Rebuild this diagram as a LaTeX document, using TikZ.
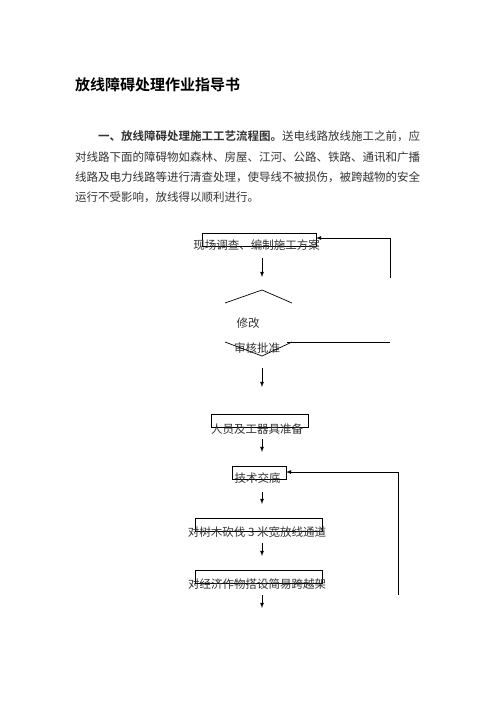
\documentclass[tikz,border=0pt]{standalone}
\usepackage{fontspec}
\newfontfamily\cjk{Noto Sans CJK SC}[BoldFont={Noto Sans CJK SC Bold}]
\usepackage{tikz}
\usetikzlibrary{arrows}
\tikzset{
  txt/.style={inner sep=0pt,font=\cjk\fontsize{11.5}{11.5}\selectfont,text=black!80},
  line/.style={anchor=west,inner sep=0pt,font=\cjk\fontsize{11.5}{11.5}\selectfont,text=black!80},
  frame/.style={draw,line width=0.7pt},
  flow/.style={-latex,line width=0.8pt}
}
\begin{document}
\begin{tikzpicture}[x=1pt,y=-1pt]
    \useasboundingbox (0,0) rectangle (496,702);
    % heading and text
    \node[anchor=west,inner sep=0pt,font=\cjk\bfseries\fontsize{15}{15}\selectfont] (title) at (75,85) {放线障碍处理作业指导书};
    \node[line] (par1) at (98,136) {\textbf{一、放线障碍处理施工工艺流程图。}送电线路放线施工之前，应};
    \node[line] (par2) at (75,157) {对线路下面的障碍物如森林、房屋、江河、公路、铁路、通讯和广播};
    \node[line] (par3) at (75,177) {线路及电力线路等进行清查处理，使导线不被损伤，被跨越物的安全};
    \node[line] (par4) at (75,197) {运行不受影响，放线得以顺利进行。};
    % boxes (shifted against their texts)
    \draw[frame] (202,233) rectangle (316,246);
    \draw[frame] (211,414) rectangle (308,427);
    \draw[frame] (232,466) rectangle (286,479);
    \draw[frame] (195,518) rectangle (322,531);
    \draw[frame] (195,570) rectangle (322,583);
    \node[txt] (survey) at (256.5,245) {现场调查、编制施工方案};
    \node[txt] (revise) at (248,323) {修改};
    \node[txt] (approve) at (257,348) {审核批准};
    \node[txt] (staff) at (257,429) {人员及工器具准备};
    \node[txt] (brief) at (257.5,478) {技术交底};
    \node[txt] (trees) at (257,532) {对树木砍伐 3 米宽放线通道};
    \node[txt] (crops) at (257,584) {对经济作物搭设简易跨越架};
    % broken diamond
    \draw[line width=0.7pt] (225,303) -- (262,290) -- (292,303);
    \draw[line width=0.7pt] (225,342) -- (262,356) -- (292,342);
    \draw[line width=0.7pt] (287,342) -- (390,342);
    % down arrows
    \foreach \ya/\yb in {258/277,368/387,439/452,492/504,543/556,595/608}
    {
      \draw[flow] (262,\ya) -- (262,\yb);
    }
    % return lines
    \coordinate (back1) at (390,278);
    \coordinate (in1) at (316,238);
    \draw[flow] (back1) |- (in1);
    \coordinate (back2) at (398,595);
    \coordinate (in2) at (286,472);
    \draw[flow] (back2) |- (in2);
\end{tikzpicture}
\end{document}
